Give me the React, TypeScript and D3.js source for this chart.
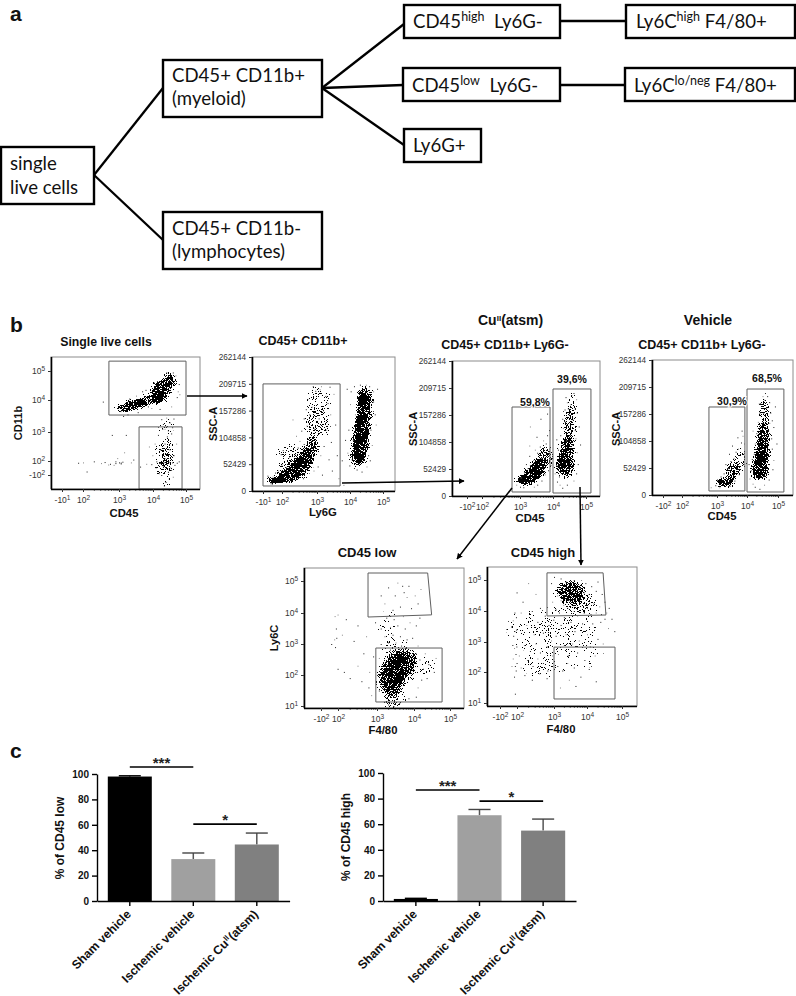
import { useEffect, useRef } from "react";
import * as d3 from "d3";

// --- bar chart values ---
const barGroups = ["Sham vehicle", "Ischemic vehicle", "Ischemic Cu|II|(atsm)"];
const barColors = ["#000000", "#a0a0a0", "#808080"];
const lowMeans = [98, 33, 44.5];
const lowErrors = [0.6, 4.8, 9];
const highMeans = [1.6, 67, 55];
const highErrors = [0.5, 4.5, 9];
const percentTicks = [0, 20, 40, 60, 80, 100];
const lowBrackets = [
  { from: 0, to: 1, level: 105.5, mark: "***" },
  { from: 1, to: 2, level: 60.5, mark: "*" },
];
const highBrackets = [
  { from: 0, to: 1, level: 86.7, mark: "***" },
  { from: 1, to: 2, level: 78, mark: "*" },
];

// --- flow cytometry: x/y are log10 decades (negative = -10^n side), SSC-A is raw.
const sscTicks = [0, 52429, 104858, 157286, 209715, 262144];

const singleLiveClouds = [
  [3.2, 3.75, 0.34, 0.16, 0.9],
  [3.5, 3.88, 0.4, 0.2, 1],
  [3.78, 4.0, 0.32, 0.2, 0.7],
  [4.1, 4.1, 0.28, 0.3, 1],
  [4.25, 4.35, 0.36, 0.46, 1],
  [4.5, 4.65, 0.25, 0.34, 1],
  [4.35, 2.2, 0.35, 0.7, 0.45],
  [4.35, 0, 0.3, 2.5, 0.3],
  [4.4, 3.2, 0.25, 0.35, 0.15],
];
const singleLiveDots = [
  [2.0, 1.6], [1.3, 1.5], [2.3, 1.9], [2.5, 1.4], [2.6, 1.7], [2.75, 1.2], [2.85, 0.9], [2.9, 1.9], [3.0, 1.6],
  [2.95, 2.1], [3.05, 1.3], [3.1, 1.8], [3.15, 2.3], [2.8, 2.9], [3.2, 2.9], [3.35, 1.6], [2.9, 1.4], [3.05, 1.55],
  [2.7, 1.0], [3.42, 2.05], [2.55, 3.95], [3.8, 1.2], [3.62, 0.4], [2.1, -1],
  [4.05, 2.6], [4.1, 1.9], [4.15, 2.9], [4.2, 1.4], [4.22, 2.4], [4.28, 3.1], [4.3, 0.5], [4.32, 1.7], [4.35, 2.6],
  [4.37, 2.1], [4.4, 1.2], [4.42, 2.85], [4.45, -1], [4.47, 1.8], [4.5, 2.4], [4.52, 0.2], [4.55, 2.95], [4.58, 1.6],
  [4.6, -2.5], [4.62, 2.2], [4.65, 0.9], [4.7, 2.6], [4.72, 1.5], [3.95, 1.1], [3.98, 2.2], [4.25, -2], [4.38, -4],
  [4.18, -1.5], [4.48, -3], [4.33, -5], [4.55, -0.5], [4.08, 0.2], [4.78, 1.9], [3.88, 2.5],
  [4.25, 3.4], [4.3, 3.25], [4.4, 3.45], [4.5, 3.3], [4.58, 3.15], [4.35, 3.1], [4.62, 3.42], [4.45, 3.05],
  [3.05, 3.65], [3.12, 3.5], [3.3, 4.05], [3.5, 4.15], [3.55, 3.62], [3.78, 4.35], [3.95, 3.75], [4.02, 4.6],
  [4.2, 3.72], [4.55, 3.8], [4.72, 4.1], [4.78, 4.55], [4.68, 4.85], [4.4, 4.95], [4.6, 4.95], [4.75, 4.3],
  [3.85, 3.8], [4.12, 4.65], [4.8, 4.2], [3.68, 4.3], [3.25, 3.55],
];

const ly6gClouds = [
  [1.2, 21000, 1.0, 9000, 1],
  [2.14, 29000, 0.38, 16000, 1],
  [2.45, 42000, 0.36, 23000, 1],
  [2.68, 62000, 0.27, 28000, 1],
  [2.85, 85000, 0.25, 28000, 0.75],
  [3.0, 130000, 0.42, 40000, 0.45],
  [3.05, 175000, 0.42, 34000, 0.32],
  [2.3, 60000, 0.55, 34000, 0.42],
  [4.45, 180000, 0.3, 28000, 1],
  [4.42, 150000, 0.3, 32000, 1],
  [4.36, 120000, 0.32, 32000, 1],
  [4.3, 90000, 0.33, 32000, 1],
  [4.25, 68000, 0.3, 24000, 1],
];
const ly6gDots = [
  [1.4, 40000], [1.9, 52000], [2.1, 47000], [2.2, 66000], [2.35, 72000], [2.45, 85000], [2.5, 98000], [2.62, 92000],
  [2.55, 118000], [2.7, 128000], [2.62, 142000], [2.78, 150000], [2.85, 165000], [2.72, 180000], [2.95, 196000],
  [3.08, 199000], [3.25, 186000], [3.32, 172000], [3.4, 150000], [3.18, 158000], [3.05, 142000], [3.28, 120000],
  [3.42, 96000], [3.2, 88000], [3.1, 70000], [3.35, 62000], [3.02, 48000], [2.9, 40000], [3.15, 32000], [2.6, 25000],
  [3.5, 190000], [3.55, 130000], [2.92, 122000], [2.4, 108000], [2.02, 80000], [1.8, 72000], [2.3, 140000],
  [2.68, 160000], [2.88, 205000], [3.12, 205000], [3.38, 204000], [3.6, 70000], [3.65, 25000], [3.45, 40000],
  [0.2, 15000], [0.5, 28000], [-0.3, 30000], [0.9, 36000], [3.8, 12000], [3.75, 60000],
  [3.85, 100000], [3.92, 75000], [3.95, 120000], [3.98, 50000], [4.0, 170000], [3.9, 200000], [4.02, 195000],
  [4.08, 100000], [4.12, 45000], [4.05, 62000], [4.15, 150000], [4.12, 205000], [4.58, 205000], [4.7, 195000],
  [4.75, 150000], [4.62, 120000], [4.66, 90000], [4.7, 175000], [4.55, 70000], [4.5, 48000], [4.35, 38000],
  [4.2, 42000], [4.78, 130000], [4.82, 200000], [4.6, 60000], [4.48, 208000], [4.3, 208000],
];

const cuClouds = [
  [3.15, 31000, 0.34, 13000, 1],
  [3.36, 41000, 0.33, 18000, 1],
  [3.55, 54000, 0.3, 23000, 1],
  [3.76, 76000, 0.25, 28000, 0.7],
  [4.36, 60000, 0.35, 30000, 1],
  [4.42, 90000, 0.3, 34000, 0.85],
  [4.5, 135000, 0.26, 42000, 0.55],
  [4.58, 175000, 0.2, 30000, 0.32],
];
const cuDots = [
  [2.9, 22000], [2.95, 30000], [3.0, 18000], [3.02, 36000], [3.1, 17000], [3.12, 46000], [3.22, 54000], [3.3, 60000],
  [3.18, 62000], [3.4, 70000], [3.28, 78000], [3.52, 84000], [3.45, 90000], [3.6, 96000], [3.65, 74000], [3.7, 108000],
  [3.78, 102000], [3.82, 118000], [3.88, 92000], [3.9, 72000], [3.85, 50000], [3.75, 42000], [3.65, 30000], [3.52, 22000],
  [3.42, 18000], [3.88, 128000], [3.5, 115000], [3.3, 135000], [3.62, 150000], [3.82, 160000], [3.28, 98000], [3.92, 60000],
  [4.12, 28000], [4.05, 44000], [4.18, 38000], [4.1, 60000], [4.2, 22000], [4.28, 16000], [4.42, 22000], [4.62, 30000],
  [4.7, 44000], [4.75, 62000], [4.72, 85000], [4.15, 90000], [4.22, 118000], [4.3, 132000], [4.28, 150000], [4.35, 168000],
  [4.42, 182000], [4.55, 196000], [4.62, 200000], [4.7, 188000], [4.72, 162000], [4.78, 135000], [4.68, 112000], [4.38, 192000],
  [4.48, 158000], [4.52, 178000], [4.6, 148000], [4.66, 128000], [4.4, 108000], [4.58, 100000], [4.5, 118000], [4.35, 145000],
  [4.3, 100000], [4.82, 100000], [4.65, 170000], [4.45, 170000], [4.1, 110000],
];

const vehicleClouds = [
  [3.27, 25000, 0.36, 13000, 0.95],
  [3.53, 45000, 0.31, 20000, 0.8],
  [3.77, 68000, 0.25, 25000, 0.45],
  [4.42, 50000, 0.36, 28000, 1],
  [4.48, 80000, 0.33, 32000, 1],
  [4.52, 115000, 0.28, 34000, 0.8],
  [4.55, 160000, 0.23, 38000, 0.55],
];
const vehicleDots = [
  [2.82, 15000], [2.95, 19000], [3.0, 30000], [3.08, 15000], [3.12, 36000], [3.22, 42000], [3.35, 52000], [3.28, 60000],
  [3.45, 66000], [3.55, 72000], [3.4, 80000], [3.62, 84000], [3.7, 90000], [3.8, 102000], [3.68, 112000], [3.85, 115000],
  [3.9, 82000], [3.88, 60000], [3.72, 40000], [3.58, 28000], [3.42, 18000], [3.9, 100000], [3.5, 96000], [3.82, 125000],
  [4.08, 32000], [4.12, 48000], [4.05, 60000], [4.18, 22000], [4.25, 16000], [4.4, 12000], [4.55, 20000], [4.7, 30000],
  [4.82, 50000], [4.85, 68000], [4.8, 90000], [4.78, 110000], [4.25, 100000], [4.3, 120000], [4.22, 80000], [4.35, 142000],
  [4.4, 160000], [4.42, 178000], [4.5, 192000], [4.58, 198000], [4.65, 192000], [4.72, 180000], [4.75, 160000], [4.85, 132000],
  [4.72, 140000], [4.48, 140000], [4.62, 170000], [4.55, 185000], [4.68, 125000], [4.9, 172000], [4.18, 125000], [4.62, 105000],
  [4.8, 145000], [4.38, 178000], [4.52, 160000], [4.95, 100000], [4.15, 70000], [4.7, 60000],
];

const lowClouds = [
  [3.7, 2.5, 0.48, 0.42, 1],
  [3.55, 2.2, 0.55, 0.52, 1],
  [3.38, 1.8, 0.45, 0.55, 1],
  [3.42, 1.25, 0.4, 0.38, 0.5],
  [3.45, 2.9, 0.4, 0.5, 0.25],
  [3.3, 3.6, 0.3, 0.5, 0.12],
  [4.1, 2.3, 0.5, 0.5, 0.18],
];
const lowDots = [
  [1.2, 3.9], [1.5, 3.5], [1.6, 3.2], [1.1, 3.15], [1.3, 2.9], [0.4, 3.0], [1.9, 3.95], [2.2, 3.8], [2.5, 3.6], [2.1, 3.3],
  [2.4, 3.1], [2.65, 2.7], [2.5, 2.3], [2.3, 1.9], [2.6, 1.8], [2.8, 2.1], [2.78, 1.6], [2.9, 2.6], [2.85, 1.35], [2.15, 2.1],
  [1.9, 2.2], [2.72, 3.25], [2.95, 3.7], [3.1, 3.5], [3.2, 3.25], [3.25, 3.85], [3.3, 3.05], [3.35, 3.55], [3.42, 3.3], [3.45, 3.8],
  [3.5, 3.05], [3.55, 3.6], [3.62, 3.25], [3.7, 3.9], [3.75, 3.5], [3.8, 3.15], [3.88, 3.7], [3.95, 3.2], [4.05, 3.6], [4.1, 2.95],
  [3.1, 3.0], [3.65, 2.95], [3.6, 2.85], [3.35, 2.82], [4.15, 3.85],
  [3.2, 4.3], [3.3, 4.8], [3.48, 4.55], [3.55, 4.95], [3.62, 4.2], [3.72, 4.65], [3.8, 4.5], [3.85, 4.85], [3.92, 4.15], [4.02, 4.55],
  [3.1, 4.55], [4.1, 4.3], [4.18, 4.75], [3.42, 4.1], [3.68, 4.85],
  [4.05, 2.7], [4.15, 2.5], [4.25, 2.2], [4.3, 2.7], [4.4, 2.35], [4.2, 1.85], [4.1, 1.6], [4.35, 1.9], [4.55, 2.1], [4.6, 2.55],
  [4.05, 1.3], [3.85, 1.25], [3.2, 1.15], [3.6, 1.1], [3.3, 1.05], [3.45, 1.0], [3.05, 1.5], [3.0, 2.0], [3.05, 2.55],
];

const highClouds = [
  [3.5, 4.62, 0.55, 0.45, 0.9],
  [3.75, 4.25, 0.65, 0.42, 0.45],
  [3.3, 3.4, 1, 0.85, 0.2],
  [2.75, 2.3, 0.7, 0.55, 0.22],
  [2.3, 3.4, 0.6, 0.7, 0.16],
  [3.8, 2.6, 0.7, 0.5, 0.1],
];
const highDots = [
  [2.3, 4.9], [1.9, 4.6], [2.15, 4.3], [2.5, 4.55], [2.62, 4.1], [2.4, 4.0], [2.1, 3.95], [1.75, 3.8], [1.4, 3.95], [1.0, 3.7],
  [0.6, 3.5], [1.1, 3.2], [1.45, 3.35], [1.8, 3.4], [2.0, 3.1], [2.25, 3.55], [2.55, 3.65], [2.75, 3.85], [2.45, 3.25], [2.7, 3.3],
  [2.85, 3.55], [1.3, 2.8], [1.65, 2.6], [1.85, 2.85], [2.05, 2.55], [2.2, 2.9], [2.35, 2.7], [2.5, 2.95], [2.62, 2.65], [2.8, 2.85],
  [2.92, 3.05], [0.9, 2.9], [1.5, 2.2], [1.0, 2.45], [1.7, 2.05], [1.9, 2.3], [2.1, 2.15], [2.28, 2.4], [2.42, 2.2], [2.55, 2.45],
  [2.7, 2.3], [2.82, 2.05], [2.95, 2.55], [2.2, 1.9], [2.4, 1.75], [2.6, 1.95], [2.8, 1.8], [1.3, 1.85], [0.7, 2.2], [1.5, 1.3],
  [3.05, 3.2], [3.12, 2.6], [3.2, 3.55], [3.3, 2.9], [3.35, 3.25], [3.42, 2.55], [3.5, 3.65], [3.55, 2.95], [3.62, 3.35], [3.7, 2.65],
  [3.75, 3.05], [3.85, 3.6], [3.92, 2.4], [4.0, 3.25], [4.08, 2.85], [4.15, 3.6], [4.22, 2.55], [4.3, 3.1], [4.38, 3.65], [4.45, 2.95],
  [3.1, 2.2], [3.25, 2.05], [3.4, 2.3], [3.6, 2.15], [3.8, 1.85], [3.45, 1.75], [4.05, 2.1], [4.25, 1.7], [3.18, 1.5], [3.65, 1.55],
  [2.92, 4.9], [2.95, 4.3], [3.0, 5.1], [3.05, 4.05], [3.1, 4.5], [3.15, 3.95], [3.2, 5.05], [3.28, 4.2], [3.35, 4.95], [3.4, 4.1],
  [3.82, 5.0], [3.9, 4.6], [3.95, 4.9], [4.0, 4.1], [4.05, 4.55], [4.12, 4.8], [4.18, 4.25], [4.25, 4.65], [4.3, 4.95], [4.35, 4.15],
  [4.42, 4.55], [4.5, 4.3], [4.55, 3.95], [4.62, 4.1], [4.7, 3.75], [4.6, 3.45], [4.5, 3.75], [4.4, 3.9], [4.25, 3.95], [4.1, 3.9],
  [3.6, 4.0], [3.7, 3.85], [3.3, 3.8], [2.98, 3.72], [3.45, 4.35], [4.78, 3.35], [3.9, 3.95], [3.2, 4.35], [3.78, 4.75], [3.6, 5.0],
];

const decadeX = [-1, 2, 3, 4, 5];
const negDecadeX = [-2, 2, 3, 4, 5];
const posDecadeY = [1, 2, 3, 4, 5];

const flowPanels = [
  {
    title: "Single live cells", titleX: 106, titleY: 346, titleSize: 12.3,
    xLabel: "CD45", xLabelX: 124, xLabelY: 517, yLabel: "CD11b", yLabelX: 22, yLabelY: 423,
    frame: [51, 200, 357, 489],
    xDomain: decadeX, xRange: [62, 83, 119, 153, 186],
    yDomain: [-2, 2, 3, 4, 5], yRange: [475, 461, 432, 400, 371], yTicks: [-2, 2, 3, 4, 5],
    gates: [[[2.72, 5.34], [5, 5.34], [5, 3.53], [2.72, 3.53]], [[3.59, 3.16], [4.88, 3.16], [4.88, -6], [3.59, -6]]],
    clouds: singleLiveClouds, dots: singleLiveDots, notes: [],
  },
  {
    title: "CD45+ CD11b+", titleX: 303, titleY: 345, titleSize: 12.5,
    xLabel: "Ly6G", xLabelX: 323, xLabelY: 515.5, yLabel: "SSC-A", yLabelX: 217, yLabelY: 424,
    frame: [252, 395, 357, 491],
    xDomain: decadeX, xRange: [263, 282, 317, 350, 383],
    yDomain: [0, 262144], yRange: [491, 357], yTicks: sscTicks,
    gates: [[[-1, 209500], [3.7, 209500], [3.7, 9800], [-1, 9800]]],
    clouds: ly6gClouds, dots: ly6gDots, notes: [],
  },
  {
    title: "CD45+ CD11b+ Ly6G-", titleX: 505, titleY: 349, titleSize: 12.5,
    xLabel: "CD45", xLabelX: 530, xLabelY: 522, yLabel: "SSC-A", yLabelX: 417, yLabelY: 429,
    frame: [452, 600, 361, 496],
    xDomain: negDecadeX, xRange: [467, 482, 520, 553, 586],
    yDomain: [0, 262144], yRange: [496, 361], yTicks: sscTicks,
    gates: [[[2.79, 172800], [3.91, 172800], [3.91, 7770], [2.79, 7770]], [[4, 207800], [5.15, 207800], [5.15, 5800], [4, 5800]]],
    clouds: cuClouds, dots: cuDots,
    notes: [{ text: "59,8%", x: 535, y: 406 }, { text: "39,6%", x: 572, y: 383 }],
  },
  {
    title: "CD45+ CD11b+ Ly6G-", titleX: 702, titleY: 349, titleSize: 12.5,
    xLabel: "CD45", xLabelX: 722, xLabelY: 520, yLabel: "SSC-A", yLabelX: 620, yLabelY: 429,
    frame: [652, 793, 360, 495],
    xDomain: negDecadeX, xRange: [663, 682, 717, 747, 778],
    yDomain: [0, 262144], yRange: [495, 360], yTicks: sscTicks,
    gates: [[[2.77, 170900], [3.93, 170900], [3.93, 7770], [2.77, 7770]], [[4, 205800], [5.19, 205800], [5.19, 5800], [4, 5800]]],
    clouds: vehicleClouds, dots: vehicleDots,
    notes: [{ text: "30,9%", x: 732, y: 405 }, { text: "68,5%", x: 767, y: 382 }],
  },
  {
    title: "CD45 low", titleX: 367, titleY: 557, titleSize: 13,
    xLabel: "F4/80", xLabelX: 383, xLabelY: 734, yLabel: "Ly6C", yLabelX: 278, yLabelY: 638,
    frame: [304, 464, 568, 708],
    xDomain: negDecadeX, xRange: [321, 338, 377, 414, 450],
    yDomain: posDecadeY, yRange: [706, 675, 644, 613, 581], yTicks: posDecadeY,
    gates: [[[2.77, 5.25], [4.38, 5.25], [4.49, 3.94], [2.77, 3.87]], [[2.97, 2.87], [4.78, 2.87], [4.78, 1.13], [2.97, 1.13]]],
    clouds: lowClouds, dots: lowDots, notes: [],
  },
  {
    title: "CD45 high", titleX: 543, titleY: 557, titleSize: 13,
    xLabel: "F4/80", xLabelX: 561, xLabelY: 733, yLabel: "", yLabelX: 0, yLabelY: 0,
    frame: [487, 637, 567, 706],
    xDomain: negDecadeX, xRange: [500, 517, 554, 587, 622],
    yDomain: posDecadeY, yRange: [703, 672, 642, 611, 580], yTicks: posDecadeY,
    gates: [[[2.81, 5.23], [4.46, 5.23], [4.54, 3.87], [2.81, 3.84]], [[3, 2.83], [4.8, 2.83], [4.8, 1.13], [3, 1.13]]],
    clouds: highClouds, dots: highDots, notes: [],
  },
];

// gating tree of panel a
const treeNodes = [
  { box: [1, 147, 94, 204], x: 10, lines: [{ y: 170, parts: ["single"] }, { y: 194, parts: ["live cells"] }] },
  { box: [163, 60, 322, 117], x: 172, lines: [{ y: 82, parts: ["CD45+ CD11b+"] }, { y: 105, parts: ["(myeloid)"] }] },
  { box: [163, 212, 322, 269], x: 172, lines: [{ y: 235, parts: ["CD45+ CD11b-"] }, { y: 258, parts: ["(lymphocytes)"] }] },
  { box: [404, 5, 560, 38], x: 413, lines: [{ y: 28, parts: ["CD45", "^high", "  Ly6G-"] }] },
  { box: [403, 68, 560, 101], x: 412, lines: [{ y: 92, parts: ["CD45", "^low", "  Ly6G-"] }] },
  { box: [404, 129, 481, 162], x: 413, lines: [{ y: 152, parts: ["Ly6G+"] }] },
  { box: [626, 5, 795, 38], x: 636, lines: [{ y: 28, parts: ["Ly6C", "^high", " F4/80+"] }] },
  { box: [625, 68, 795, 101], x: 634, lines: [{ y: 92, parts: ["Ly6C", "^lo/neg", " F4/80+"] }] },
];
const treeLinks = [
  [94, 175, 163, 88], [94, 175, 163, 240], [322, 88, 404, 24], [322, 88, 403, 85], [322, 88, 404, 145],
  [560, 21, 626, 21], [560, 85, 625, 85],
];
const gateArrows = [
  [187, 396, 247, 396], [342, 483, 464, 481], [512, 488, 457, 559], [580, 487, 581, 565],
];

const SANS = "'Liberation Sans', Arial, sans-serif";

function addDecadeLabel(sel: any, value: number, size: number) {
  sel.text(null);
  sel.append("tspan").text(value < 0 ? "-10" : "10");
  sel.append("tspan").attr("dy", -3.5).attr("font-size", size - 2).text(Math.abs(value));
}

function drawFlowPanel(svg: any, p: any, index: number) {
  const g = svg.append("g");
  const [x0, x1, y0, y1] = p.frame;
  const x = d3.scaleLinear().domain(p.xDomain).range(p.xRange);
  const y = d3.scaleLinear().domain(p.yDomain).range(p.yRange);
  const isSsc = p.yDomain.length === 2;

  g.append("clipPath").attr("id", `frame${index}`).append("rect")
    .attr("x", x0).attr("y", y0).attr("width", x1 - x0).attr("height", y1 - y0);

  g.append("rect").attr("x", x0).attr("y", y0).attr("width", x1 - x0).attr("height", y1 - y0)
    .attr("fill", "#fff").attr("stroke", "#8c8c8c").attr("stroke-width", 1);

  // density clouds, shown as a halftone grain (the filter only shades them, no values come from it)
  g.append("g").attr("clip-path", `url(#frame${index})`).append("g").attr("filter", "url(#stipple)")
    .selectAll("ellipse").data(p.clouds).join("ellipse")
    .attr("cx", (d: any) => x(d[0]))
    .attr("cy", (d: any) => y(d[1]))
    .attr("rx", (d: any) => Math.abs(x(d[0] + d[2]) - x(d[0])))
    .attr("ry", (d: any) => Math.abs(y(d[1] + d[3]) - y(d[1])))
    .attr("fill", "url(#cloud)")
    .attr("opacity", (d: any) => d[4]);

  g.selectAll("rect.dot").data(p.dots).join("rect")
    .attr("class", "dot")
    .attr("x", (d: any) => x(d[0]))
    .attr("y", (d: any) => y(d[1]))
    .attr("width", 1).attr("height", 1)
    .attr("fill", (_: any, i: number) => (i % 3 === 0 ? "#888" : "#222"));

  // gates
  g.selectAll("polygon").data(p.gates).join("polygon")
    .attr("points", (d: any) => d.map((c: number[]) => [x(c[0]), y(c[1])].join(",")).join(" "))
    .attr("fill", "none").attr("stroke", "#5f5f5f").attr("stroke-width", 1);

  // axes
  const xMinor = p.xDomain.filter((v: number) => v >= 2 && v < 5).flatMap((v: number) =>
    d3.range(2, 10).map((m) => v + Math.log10(m)));
  const xAxis = g.append("g").attr("transform", `translate(0,${y1})`)
    .call(d3.axisBottom(x).tickValues(p.xDomain).tickSize(3).tickSizeOuter(0).tickFormat(() => ""));
  g.append("g").attr("transform", `translate(0,${y1})`)
    .call(d3.axisBottom(x).tickValues(xMinor).tickSize(1.5).tickFormat(() => ""))
    .call((a: any) => a.select(".domain").remove());
  xAxis.selectAll(".tick text").each(function (this: any, d: any) {
    addDecadeLabel(d3.select(this), d, 8.5);
  }).attr("dy", "0.85em").attr("y", 7);
  xAxis.select(".domain").attr("d", `M${x0},0.5H${x1}`).attr("stroke", "#000").attr("stroke-width", 1.6);

  const yAxis = g.append("g").attr("transform", `translate(${x0},0)`)
    .call(d3.axisLeft(y).tickValues(p.yTicks).tickSize(3).tickSizeOuter(0).tickFormat(d3.format("d") as any));
  if (!isSsc) {
    yAxis.selectAll(".tick text").each(function (this: any, d: any) {
      addDecadeLabel(d3.select(this), d, 8.5);
    });
  }
  yAxis.select(".domain").attr("d", `M0.5,${y0}V${y1}`).attr("stroke", "#000").attr("stroke-width", 1.6);
  yAxis.selectAll(".tick line").attr("stroke", "#333");
  xAxis.selectAll(".tick line").attr("stroke", "#333");
  g.selectAll(".tick text").attr("font-family", SANS).attr("font-size", isSsc ? 8.2 : 8.5).attr("fill", "#333");
  xAxis.selectAll(".tick text").attr("font-size", 8.5);

  const bold = (t: string, px: number, py: number, size: number) =>
    g.append("text").attr("x", px).attr("y", py).attr("text-anchor", "middle")
      .attr("font-family", SANS).attr("font-weight", "bold").attr("font-size", size).attr("fill", "#111").text(t);

  bold(p.title, p.titleX, p.titleY, p.titleSize);
  bold(p.xLabel, p.xLabelX, p.xLabelY, 11.3);
  if (p.yLabel) {
    bold(p.yLabel, 0, 0, 11).attr("transform", `translate(${p.yLabelX},${p.yLabelY}) rotate(-90)`);
  }
  p.notes.forEach((n: any) => {
    const t = bold(n.text, n.x, n.y, 10.5);
    t.attr("paint-order", "stroke").attr("stroke", "#fff").attr("stroke-width", 2);
  });
}

function drawBars(svg: any, o: any) {
  const g = svg.append("g");
  const x = d3.scaleBand().domain(barGroups).range(o.xRange).paddingInner(0.307).paddingOuter(0.17);
  const y = d3.scaleLinear().domain([0, 100]).range(o.yRange);

  g.selectAll("line.err").data(o.means).join("line").attr("class", "err")
    .attr("x1", (_: any, i: number) => x(barGroups[i])! + x.bandwidth() / 2)
    .attr("x2", (_: any, i: number) => x(barGroups[i])! + x.bandwidth() / 2)
    .attr("y1", (d: number) => y(d))
    .attr("y2", (d: number, i: number) => y(d + o.errors[i]))
    .attr("stroke", (_: any, i: number) => (i === 0 ? "#000" : "#555")).attr("stroke-width", 1.5);
  g.selectAll("line.cap").data(o.means).join("line").attr("class", "cap")
    .attr("x1", (_: any, i: number) => x(barGroups[i])! + x.bandwidth() * 0.25)
    .attr("x2", (_: any, i: number) => x(barGroups[i])! + x.bandwidth() * 0.75)
    .attr("y1", (d: number, i: number) => y(d + o.errors[i]))
    .attr("y2", (d: number, i: number) => y(d + o.errors[i]))
    .attr("stroke", (_: any, i: number) => (i === 0 ? "#000" : "#444")).attr("stroke-width", 1.4);

  g.selectAll("rect.bar").data(o.means).join("rect").attr("class", "bar")
    .attr("x", (_: any, i: number) => x(barGroups[i]))
    .attr("width", x.bandwidth())
    .attr("y", (d: number) => y(d))
    .attr("height", (d: number) => y(0) - y(d))
    .attr("fill", (_: any, i: number) => barColors[i]);

  const yAxis = g.append("g").attr("transform", `translate(${o.xRange[0]},0)`)
    .call(d3.axisLeft(y).tickValues(percentTicks).tickSize(5).tickSizeOuter(0));
  yAxis.selectAll(".tick text").attr("font-family", SANS).attr("font-weight", "bold").attr("font-size", 10).attr("fill", "#111");
  yAxis.selectAll(".tick line, .domain").attr("stroke", "#000").attr("stroke-width", 1.4);

  const xAxis = g.append("g").attr("transform", `translate(0,${o.yRange[0]})`)
    .call(d3.axisBottom(x).tickSize(5).tickSizeOuter(0));
  xAxis.selectAll(".tick line, .domain").attr("stroke", "#000").attr("stroke-width", 1.4);
  xAxis.selectAll(".tick text")
    .attr("font-family", SANS).attr("font-weight", "bold").attr("font-size", 12.2).attr("fill", "#111")
    .attr("text-anchor", "end").attr("dy", 0).attr("y", 0)
    .attr("transform", "translate(2,14) rotate(-45)")
    .each(function (this: any, d: any) {
      const parts = d.split("|");
      const t = d3.select(this).text(null);
      t.append("tspan").text(parts[0]);
      if (parts.length > 1) {
        t.append("tspan").attr("dy", -4).attr("font-size", 8).text(parts[1]);
        t.append("tspan").attr("dy", 4).attr("dx", 0.6).text(parts[2]);
      }
    });

  g.append("text").attr("transform", `translate(${o.labelX},${o.labelY}) rotate(-90)`)
    .attr("text-anchor", "middle").attr("font-family", SANS).attr("font-weight", "bold").attr("font-size", 12)
    .attr("fill", "#111").text(o.label);

  const mid = (i: number) => x(barGroups[i])! + x.bandwidth() / 2;
  o.brackets.forEach((b: any) => {
    g.append("line").attr("x1", mid(b.from)).attr("x2", mid(b.to)).attr("y1", y(b.level)).attr("y2", y(b.level))
      .attr("stroke", "#000").attr("stroke-width", 1.7);
    g.append("text").attr("x", (mid(b.from) + mid(b.to)) / 2).attr("y", y(b.level) + 1)
      .attr("text-anchor", "middle").attr("font-family", SANS).attr("font-weight", "bold").attr("font-size", 15)
      .attr("fill", "#222").text(b.mark);
  });
}

function drawTree(svg: any) {
  const g = svg.append("g");
  g.selectAll("line").data(treeLinks).join("line")
    .attr("x1", (d: number[]) => d[0]).attr("y1", (d: number[]) => d[1])
    .attr("x2", (d: number[]) => d[2]).attr("y2", (d: number[]) => d[3])
    .attr("stroke", "#000").attr("stroke-width", 2.3);
  treeNodes.forEach((n) => {
    const [a, b, c, e] = n.box;
    g.append("rect").attr("x", a).attr("y", b).attr("width", c - a).attr("height", e - b)
      .attr("fill", "#fff").attr("stroke", "#000").attr("stroke-width", 2.4);
    n.lines.forEach((l) => {
      const t = g.append("text").attr("x", n.x).attr("y", l.y).attr("xml:space", "preserve")
        .style("white-space", "pre")
        .attr("font-family", "Lato, sans-serif").attr("font-size", 18.6).attr("fill", "#111");
      let raised = false;
      l.parts.forEach((s) => {
        if (s.startsWith("^")) {
          t.append("tspan").attr("dy", -7).attr("font-size", 12.5).text(s.slice(1));
          raised = true;
        } else {
          t.append("tspan").attr("dy", raised ? 7 : 0).text(s);
          raised = false;
        }
      });
    });
  });
}

export default function App() {
  const ref = useRef<SVGSVGElement>(null);

  useEffect(() => {
    const svg = d3.select(ref.current);
    svg.selectAll("*").remove();

    const defs = svg.append("defs");
    const grad = defs.append("radialGradient").attr("id", "cloud");
    grad.append("stop").attr("offset", "0%").attr("stop-color", "#000").attr("stop-opacity", 1);
    grad.append("stop").attr("offset", "55%").attr("stop-color", "#000").attr("stop-opacity", 0.85);
    grad.append("stop").attr("offset", "100%").attr("stop-color", "#000").attr("stop-opacity", 0);

    const stipple = defs.append("filter").attr("id", "stipple").attr("x", "-10%").attr("y", "-10%")
      .attr("width", "120%").attr("height", "120%").attr("color-interpolation-filters", "sRGB");
    stipple.append("feTurbulence").attr("type", "fractalNoise").attr("baseFrequency", 0.95)
      .attr("numOctaves", 2).attr("seed", 4).attr("result", "grain");
    stipple.append("feColorMatrix").attr("in", "grain").attr("type", "matrix")
      .attr("values", "0 0 0 0 0  0 0 0 0 0  0 0 0 0 0  2.6 0 0 0 -0.9").attr("result", "screen");
    stipple.append("feComposite").attr("in", "SourceAlpha").attr("in2", "screen").attr("operator", "arithmetic")
      .attr("k1", 0).attr("k2", 1).attr("k3", 1).attr("k4", -0.5).attr("result", "sum");
    stipple.append("feComponentTransfer").attr("in", "sum").attr("result", "dots")
      .append("feFuncA").attr("type", "discrete").attr("tableValues", "0 1");
    // keep the grain inside the clouds, the empty part of the plot stays white
    const inside = stipple.append("feComponentTransfer").attr("in", "SourceAlpha").attr("result", "inside");
    inside.append("feFuncA").attr("type", "linear").attr("slope", 60);
    stipple.append("feComposite").attr("in", "dots").attr("in2", "inside").attr("operator", "in").attr("result", "kept");
    stipple.append("feGaussianBlur").attr("in", "kept").attr("stdDeviation", 0.35);

    const arrowHead = defs.append("marker").attr("id", "head").attr("viewBox", "0 0 10 10")
      .attr("refX", 9).attr("refY", 5).attr("markerWidth", 4).attr("markerHeight", 4).attr("orient", "auto");
    arrowHead.append("path").attr("d", "M0,0L10,5L0,10Z").attr("fill", "#000");

    drawTree(svg);
    flowPanels.forEach((p, i) => drawFlowPanel(svg, p, i));

    svg.selectAll("line.arrow").data(gateArrows).join("line").attr("class", "arrow")
      .attr("x1", (d) => d[0]).attr("y1", (d) => d[1]).attr("x2", (d) => d[2]).attr("y2", (d) => d[3])
      .attr("stroke", "#000").attr("stroke-width", 1.5).attr("marker-end", "url(#head)");

    const heading = (t: string, x: number, y: number, size: number, dx = "middle") =>
      svg.append("text").attr("x", x).attr("y", y).attr("text-anchor", dx)
        .attr("font-family", SANS).attr("font-weight", "bold").attr("font-size", size).attr("fill", "#111").text(t);

    const cu = heading("Cu", 478, 325, 14, "start");
    cu.append("tspan").attr("dy", -4).attr("font-size", 8).text("II");
    cu.append("tspan").attr("dy", 4).text("(atsm)");
    heading("Vehicle", 708, 325, 14);

    heading("a", 10, 21, 21, "start");
    heading("b", 10, 332, 21, "start");
    heading("c", 10, 758, 21, "start");

    drawBars(svg, {
      xRange: [97, 289.6], yRange: [901, 774], means: lowMeans, errors: lowErrors, brackets: lowBrackets,
      label: "% of CD45 low", labelX: 64, labelY: 838,
    });
    drawBars(svg, {
      xRange: [383, 576], yRange: [901, 773], means: highMeans, errors: highErrors, brackets: highBrackets,
      label: "% of CD45 high", labelX: 350, labelY: 837,
    });
  }, []);

  return (
    <svg ref={ref} width={796} height={996}
      style={{ position: "absolute", left: 0, top: 0, background: "#fff", display: "block" }} />
  );
}
